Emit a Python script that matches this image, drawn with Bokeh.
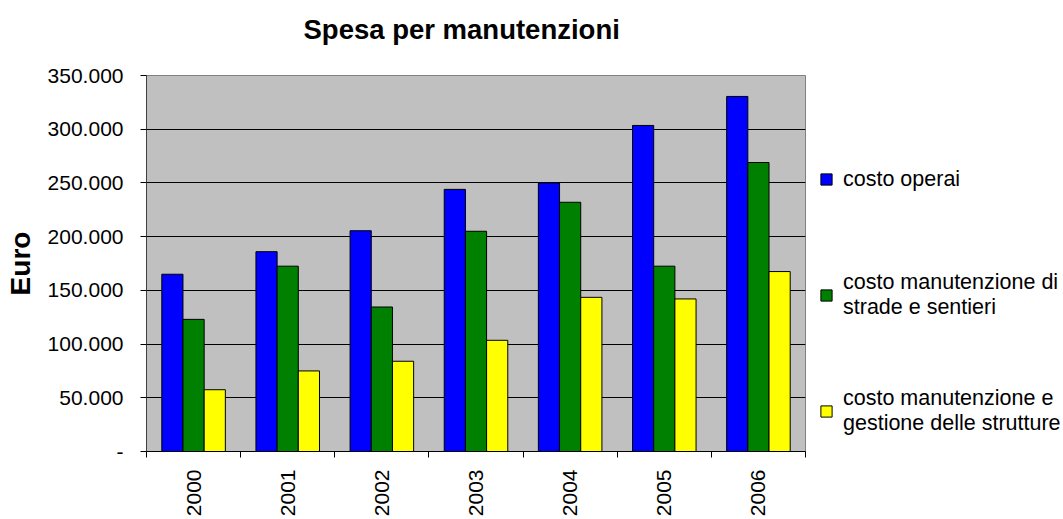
import math
from bokeh.plotting import figure
from bokeh.models import FixedTicker, Legend, LegendItem, ColumnDataSource, Range1d
from bokeh.transform import dodge
from bokeh.embed import file_html
from bokeh.resources import INLINE

years = ["2000", "2001", "2002", "2003", "2004", "2005", "2006"]
costo_operai = [165000, 186000, 205500, 244000, 250000, 303500, 330500]
costo_strade = [123000, 172500, 134500, 205000, 232000, 172500, 269000]
costo_strutture = [57500, 75000, 84000, 103500, 143500, 142000, 167500]
series_labels = [
    "costo operai",
    "costo manutenzione di\nstrade e sentieri",
    "costo manutenzione e\ngestione delle strutture",
]
series_colors = ["#0000FF", "#008000", "#FFFF00"]
y_ticks = [0, 50000, 100000, 150000, 200000, 250000, 300000, 350000]
y_tick_labels = ["-", "50.000", "100.000", "150.000", "200.000", "250.000", "300.000", "350.000"]

FONT = "Liberation Sans"

src = ColumnDataSource(dict(
    x=[i + 0.5 for i in range(len(years))],
    operai=costo_operai,
    strade=costo_strade,
    strutture=costo_strutture,
))

p = figure(frame_width=659, frame_height=376, x_range=Range1d(0, len(years)), y_range=Range1d(0, 350000),
           output_backend="svg", toolbar_location=None,
           min_border_left=146, min_border_right=20, min_border_top=75, min_border_bottom=68,
           title="Spesa per manutenzioni\n")
p.background_fill_color = "#C0C0C0"
p.border_fill_color = "white"
p.outline_line_color = "#808080"

bw = 0.225
cols = ["operai", "strade", "strutture"]
offsets = [-bw, 0.0, bw]
renderers = []
for c, off, color in zip(cols, offsets, series_colors):
    r = p.vbar(x=dodge("x", off, range=p.x_range), top=c, width=bw, bottom=0, source=src,
               fill_color=color, line_color="black", line_width=1)
    renderers.append(r)

# title
p.title.text_font = FONT
p.title.text_font_size = "27.5px"
p.title.text_font_style = "bold"
p.title.text_color = "black"
p.title.align = "left"
p.title.offset = 157
p.title.standoff = 0

# y axis
yax = p.yaxis[0]
yax.ticker = FixedTicker(ticks=y_ticks)
yax.major_label_overrides = {t: l for t, l in zip(y_ticks, y_tick_labels)}
yax.major_label_text_font = FONT
yax.major_label_text_font_size = "21px"
yax.major_label_text_color = "black"
yax.major_label_standoff = 17
yax.major_tick_out = 6
yax.major_tick_in = 0
yax.minor_tick_out = 0
yax.minor_tick_in = 0
yax.axis_line_color = "#404040"
yax.major_tick_line_color = "black"
yax.axis_label = "Euro"
yax.axis_label_text_font = FONT
yax.axis_label_text_font_size = "28px"
yax.axis_label_text_font_style = "bold"
yax.axis_label_text_color = "black"
yax.axis_label_standoff = 9

# x axis
xax = p.xaxis[0]
xax.ticker = FixedTicker(ticks=[i + 0.5 for i in range(len(years))],
                         minor_ticks=list(range(len(years) + 1)))
xax.major_label_overrides = {i + 0.5: y for i, y in enumerate(years)}
xax.major_label_orientation = math.pi / 2
xax.major_label_text_font = FONT
xax.major_label_text_font_size = "21px"
xax.major_label_text_color = "black"
xax.major_label_standoff = 12
xax.major_tick_out = 0
xax.major_tick_in = 0
xax.minor_tick_out = 6
xax.minor_tick_in = 0
xax.minor_tick_line_color = "black"
xax.axis_line_color = "black"

p.xgrid.visible = False
p.ygrid.ticker = FixedTicker(ticks=y_ticks[1:-1])
p.ygrid.grid_line_color = "black"
p.ygrid.grid_line_width = 1

# legend
lg = Legend(items=[LegendItem(label=lab, renderers=[r]) for r, lab in zip(renderers, series_labels)],
            location="bottom_left", spacing=64,
            padding=0, margin=14, border_line_alpha=0, background_fill_alpha=0,
            glyph_width=14, glyph_height=14, label_standoff=10,
            label_text_font=FONT, label_text_font_size="21.5px", label_text_color="black",
            label_text_line_height=1.2, label_height=52)
p.add_layout(lg, "right")

open("out.html", "w").write(file_html(p, INLINE))
